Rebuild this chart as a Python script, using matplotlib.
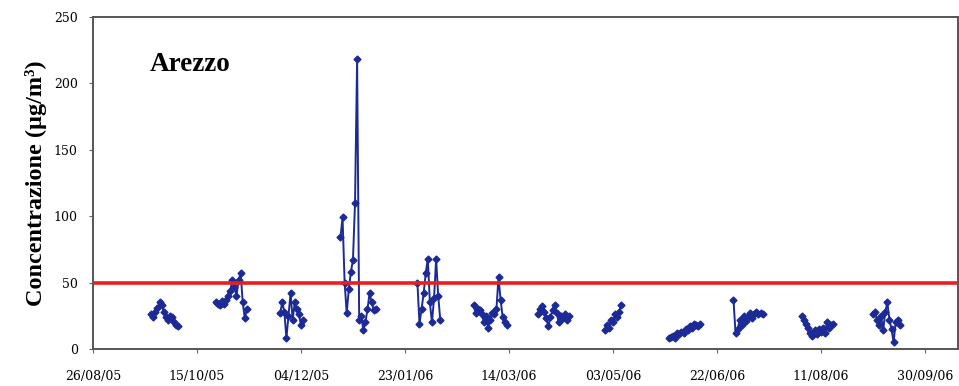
import numpy as np
import pandas as pd
import matplotlib
matplotlib.use("Agg")
import matplotlib.pyplot as plt
import matplotlib.dates as mdates
import matplotlib.transforms as mtransforms

# campagne di misura: data di inizio e valori giornalieri (µg/m3)
inizi = ["2005-09-23", "2005-10-24", "2005-11-24", "2005-12-23", "2006-01-29",
         "2006-02-25", "2006-03-28", "2006-04-29", "2006-05-30", "2006-06-30",
         "2006-08-02", "2006-09-05"]
valori = [
    [26, 24, 28, 31, 35, 33, 28, 24, 22, 25, 24, 20, 18, 17],
    [35, 34, 33, 36, 34, 37, 40, 44, 52, 47, 40, 52, 57, 35, 23, 30],
    [27, 35, 28, 8, 25, 42, 22, 35, 30, 26, 18, 22],
    [84, 99, 50, 27, 45, 58, 67, 110, 218, 22, 25, 14, 20, 30, 42, 35, 29, 30],
    [50, 19, 30, 42, 57, 68, 35, 20, 38, 68, 40, 22],
    [33, 27, 30, 29, 26, 20, 25, 16, 22, 27, 26, 30, 54, 37, 24, 20, 18],
    [26, 30, 32, 28, 23, 17, 24, 29, 33, 27, 20, 25, 23, 26, 22, 25],
    [14, 18, 16, 22, 20, 26, 24, 28, 33],
    [8, 9, 10, 8, 12, 11, 13, 12, 15, 14, 17, 16, 19, 18, 17, 19],
    [37, 12, 15, 22, 18, 25, 21, 24, 27, 23, 26, 28, 26, 27, 26],
    [25, 22, 19, 16, 12, 10, 14, 11, 15, 13, 16, 12, 20, 16, 18, 19],
    [26, 28, 22, 18, 25, 14, 28, 35, 22, 15, 5, 20, 22, 18],
]
limite = 50
tick_date = ["2005-08-26", "2005-10-15", "2005-12-04", "2006-01-23", "2006-03-14",
             "2006-05-03", "2006-06-22", "2006-08-11", "2006-09-30"]

plt.rcParams['font.family'] = ['Liberation Serif', 'DejaVu Serif']

fig = plt.figure(figsize=(9.59, 3.86), dpi=100)
ax = fig.add_axes([0.097, 0.096, 0.902, 0.86])

blu = "#1c2a98"
for ini, v in zip(inizi, valori):
    d = pd.date_range(ini, periods=len(v), freq="D")
    ax.plot(d, v, color=blu, lw=1.4, marker="D", ms=3.5, mec=blu, mfc=blu)

ax.axhline(limite, color="#e8201c", lw=2.6, zorder=3)

x0 = pd.Timestamp("2005-08-26")
ax.set_xlim(x0, x0 + pd.Timedelta(days=416))
ax.set_ylim(0, 250)
ax.set_yticks(range(0, 251, 50))
ax.set_xticks(pd.to_datetime(tick_date))
ax.xaxis.set_major_formatter(mdates.DateFormatter("%d/%m/%y"))
ax.tick_params(axis="both", direction="out", length=3, color="#666666")
ax.tick_params(axis="y", pad=8)
ax.tick_params(axis="x", pad=12)
for lab in ax.get_xticklabels() + ax.get_yticklabels():
    lab.set_family("DejaVu Serif")
    lab.set_fontsize(9)

for s in ax.spines.values():
    s.set_color("#555555")
    s.set_linewidth(1.4)

ax.set_ylabel("Concentrazione (µg/m³)", fontsize=17.5, fontweight="bold", labelpad=5)
trans = mtransforms.blended_transform_factory(ax.transAxes, ax.transData)
ax.text(0.066, 214, "Arezzo", transform=trans,
        fontsize=19.5, fontweight="bold", va="center", ha="left")

fig.savefig("out.png", dpi=100)
